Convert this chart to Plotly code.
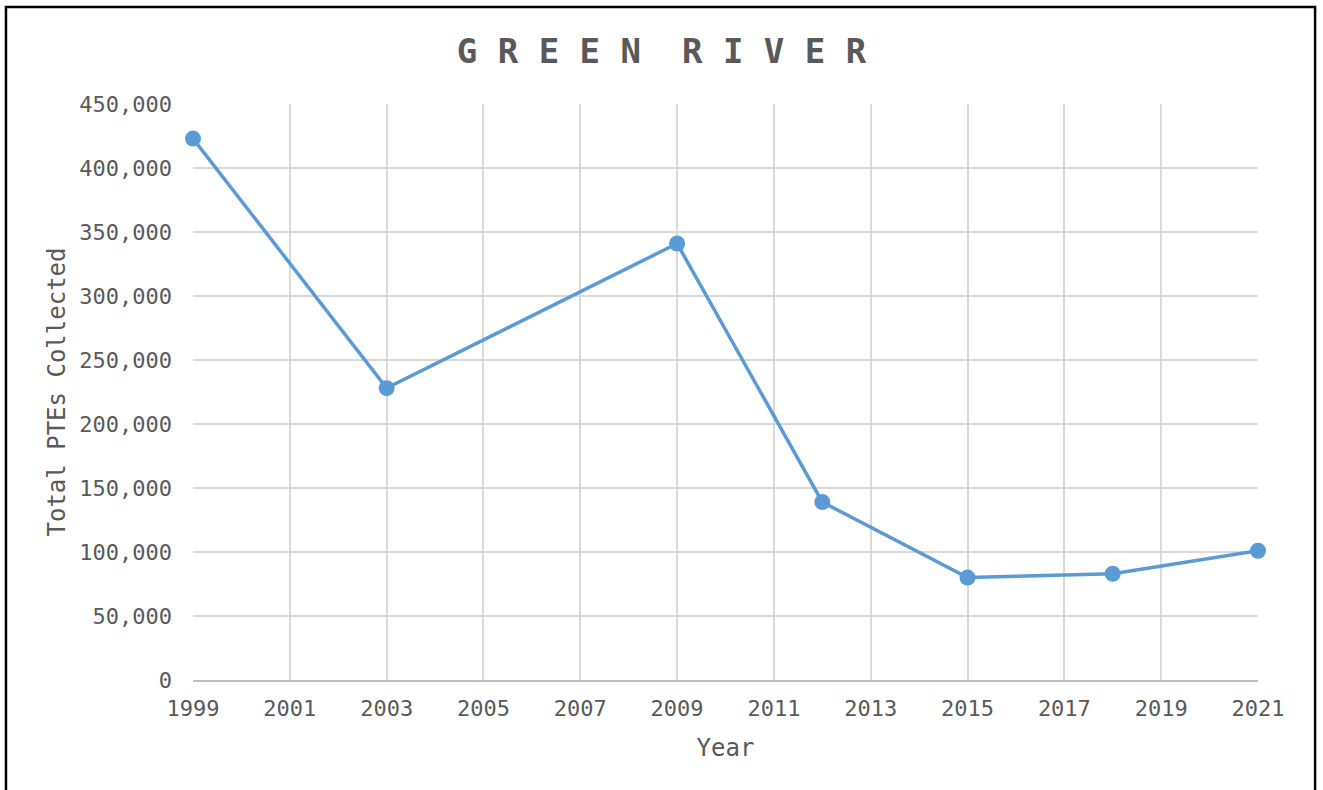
import plotly.graph_objects as go

# Data
years = [1999, 2003, 2009, 2012, 2015, 2018, 2021]
ptes = [423000, 228000, 341000, 139000, 80000, 83000, 101000]

title_text = "G R E E N  R I V E R"
x_title = "Year"
y_title = "Total PTEs Collected"

mono = "DejaVu Sans Mono"
grey = "#595959"

fig = go.Figure()

fig.add_trace(go.Scatter(
    x=years, y=ptes,
    mode="lines+markers",
    line=dict(color="#5b9bd5", width=3.5),
    marker=dict(color="#5b9bd5", size=16),
    cliponaxis=False,
    showlegend=False,
))

fig.update_layout(
    width=1323, height=790,
    margin=dict(l=193, r=65, t=104, b=110),
    paper_bgcolor="white",
    plot_bgcolor="white",
    title=dict(
        text=title_text, x=0.5, xanchor="center", y=0.935, yanchor="middle",
        font=dict(family=mono, size=34, color=grey, weight="bold"),
    ),
    font=dict(family=mono, color=grey),
    xaxis=dict(
        range=[1999, 2021], tick0=1999, dtick=2,
        showgrid=True, gridcolor="#d9d9d9", gridwidth=2,
        showline=True, linecolor="#bfbfbf", linewidth=2,
        zeroline=False, ticks="", ticklabelstandoff=8,
        tickfont=dict(family=mono, size=22, color=grey),
        title=dict(text=x_title, font=dict(family=mono, size=24, color=grey), standoff=19),
    ),
    yaxis=dict(
        range=[0, 450000], dtick=50000, tickformat=",",
        showgrid=True, gridcolor="#d9d9d9", gridwidth=2,
        showline=False, zeroline=False, ticks="", ticklabelstandoff=20,
        tickfont=dict(family=mono, size=22, color=grey),
        title=dict(text=y_title, font=dict(family=mono, size=24, color=grey), standoff=6),
    ),
)

# outer border of the chart (bottom edge runs off the image)
fig.add_shape(
    type="rect", xref="paper", yref="paper",
    x0=-0.1756, x1=1.0536, y0=-0.25, y1=1.1684,
    line=dict(color="black", width=2.5), fillcolor="rgba(0,0,0,0)",
    layer="above",
)

fig.write_html(
    "out.html",
    config={"displayModeBar": False},
    post_script="document.body.style.margin='0';",
)
